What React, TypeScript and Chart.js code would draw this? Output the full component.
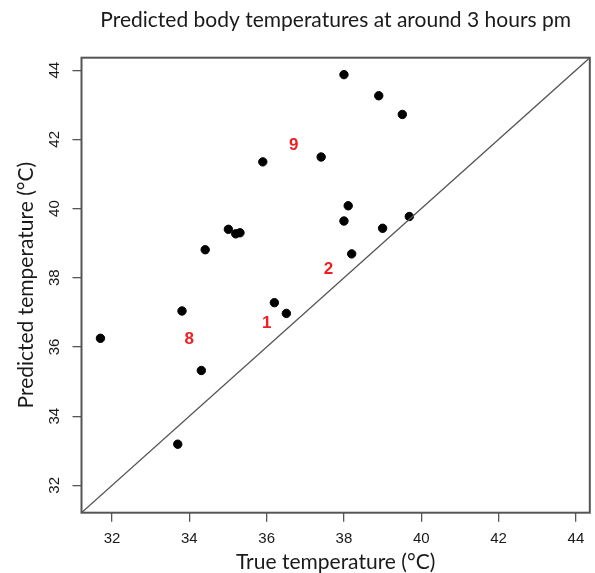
import React, { useEffect, useRef } from "react";
import { Chart, registerables } from "chart.js";

Chart.register(...registerables);

const trueTemp = [35.9, 37.41, 35.01, 35.2, 35.31, 34.41, 38.0, 38.9, 39.51, 38.11, 38.0, 39.69, 39.0, 38.2, 31.7, 33.81, 34.31, 33.7, 36.2, 36.51];
const predTemp = [41.35, 41.49, 39.4, 39.27, 39.3, 38.81, 43.87, 43.26, 42.72, 40.08, 39.64, 39.77, 39.43, 38.69, 36.25, 37.04, 35.32, 33.19, 37.28, 36.97];

const noteLabels = ["9", "2", "8", "1"];
const noteX = [36.7, 37.6, 34.0, 36.0];
const noteY = [41.82, 38.25, 36.21, 36.69];

const tickValues = [32, 34, 36, 38, 40, 42, 44];
const axisMin = 31.21;
const axisMax = 44.36;

const titleText = "Predicted body temperatures at around 3 hours pm";
const xTitle = "True temperature (°C)";
const yTitle = "Predicted temperature (°C)";

const AXIS_COLOR = "#555555";
const TEXT_COLOR = "#1a1a1a";

const decorPlugin = {
  id: "decor",
  afterDraw(chart: any) {
    const ctx = chart.ctx;
    const area = chart.chartArea;
    const xs = chart.scales.x;
    const ys = chart.scales.y;
    ctx.save();
    // box
    ctx.strokeStyle = AXIS_COLOR;
    ctx.lineWidth = 2;
    ctx.strokeRect(area.left, area.top, area.right - area.left, area.bottom - area.top);

    // tick labels
    ctx.fillStyle = TEXT_COLOR;
    ctx.font = "15px 'Liberation Sans', Arial, sans-serif";
    ctx.textAlign = "center";
    ctx.textBaseline = "middle";
    tickValues.forEach((v) => {
      ctx.fillText(String(v), xs.getPixelForValue(v), 539);
    });
    tickValues.forEach((v) => {
      ctx.save();
      ctx.translate(55, ys.getPixelForValue(v));
      ctx.rotate(-Math.PI / 2);
      ctx.fillText(String(v), 0, 0);
      ctx.restore();
    });

    // titles
    ctx.font = "21px Lato, 'Open Sans', sans-serif";
    ctx.fillText(titleText, (area.left + area.right) / 2, 20);
    ctx.font = "21px Lato, 'Open Sans', sans-serif";
    ctx.fillText(xTitle, (area.left + area.right) / 2, 562);
    ctx.save();
    ctx.translate(26, (area.top + area.bottom) / 2);
    ctx.rotate(-Math.PI / 2);
    ctx.fillText(yTitle, 0, 0);
    ctx.restore();

    // red annotations
    ctx.fillStyle = "#f01e23";
    ctx.font = "bold 17px 'Liberation Sans', Arial, sans-serif";
    noteLabels.forEach((t, i) => {
      ctx.fillText(t, xs.getPixelForValue(noteX[i]), ys.getPixelForValue(noteY[i]));
    });
    ctx.restore();
  },
};

export default function App() {
  const ref = useRef<HTMLCanvasElement | null>(null);
  useEffect(() => {
    document.body.style.margin = "0";
    if (!ref.current) return;
    const points = trueTemp.map((x, i) => ({ x, y: predTemp[i] }));
    const chart = new Chart(ref.current, {
      type: "scatter",
      data: {
        datasets: [
          {
            type: "line",
            data: [
              { x: axisMin, y: axisMin },
              { x: axisMax, y: axisMax },
            ],
            borderColor: "#555555",
            borderWidth: 1.3,
            pointRadius: 0,
            fill: false,
          } as any,
          {
            data: points,
            backgroundColor: "#000000",
            borderColor: "#000000",
            pointRadius: 4.2,
            pointHoverRadius: 4.2,
          },
        ],
      },
      options: {
        responsive: false,
        animation: false,
        events: [],
        layout: { padding: { top: 57.7, right: 3, left: 0, bottom: 0 } },
        plugins: {
          legend: { display: false },
          title: { display: false },
          tooltip: { enabled: false },
        },
        scales: {
          x: {
            type: "linear",
            min: axisMin,
            max: axisMax,
            afterBuildTicks: (s: any) => {
              s.ticks = tickValues.map((v) => ({ value: v }));
            },
            afterFit: (s: any) => {
              s.height = 60.3;
            },
            ticks: { display: false },
            border: { display: false },
            grid: {
              drawOnChartArea: false,
              drawTicks: true,
              tickLength: 9,
              color: AXIS_COLOR,
              lineWidth: 1.3,
            },
          },
          y: {
            type: "linear",
            min: axisMin,
            max: axisMax,
            afterBuildTicks: (s: any) => {
              s.ticks = tickValues.map((v) => ({ value: v }));
            },
            afterFit: (s: any) => {
              s.width = 81.5;
            },
            ticks: { display: false },
            border: { display: false },
            grid: {
              drawOnChartArea: false,
              drawTicks: true,
              tickLength: 9,
              color: AXIS_COLOR,
              lineWidth: 1.3,
            },
          },
        },
      },
      plugins: [decorPlugin],
    });
    return () => chart.destroy();
  }, []);
  return (
    <div style={{ width: 595, height: 573, background: "#fff" }}>
      <canvas ref={ref} width={595} height={573} style={{ display: "block" }} />
    </div>
  );
}
